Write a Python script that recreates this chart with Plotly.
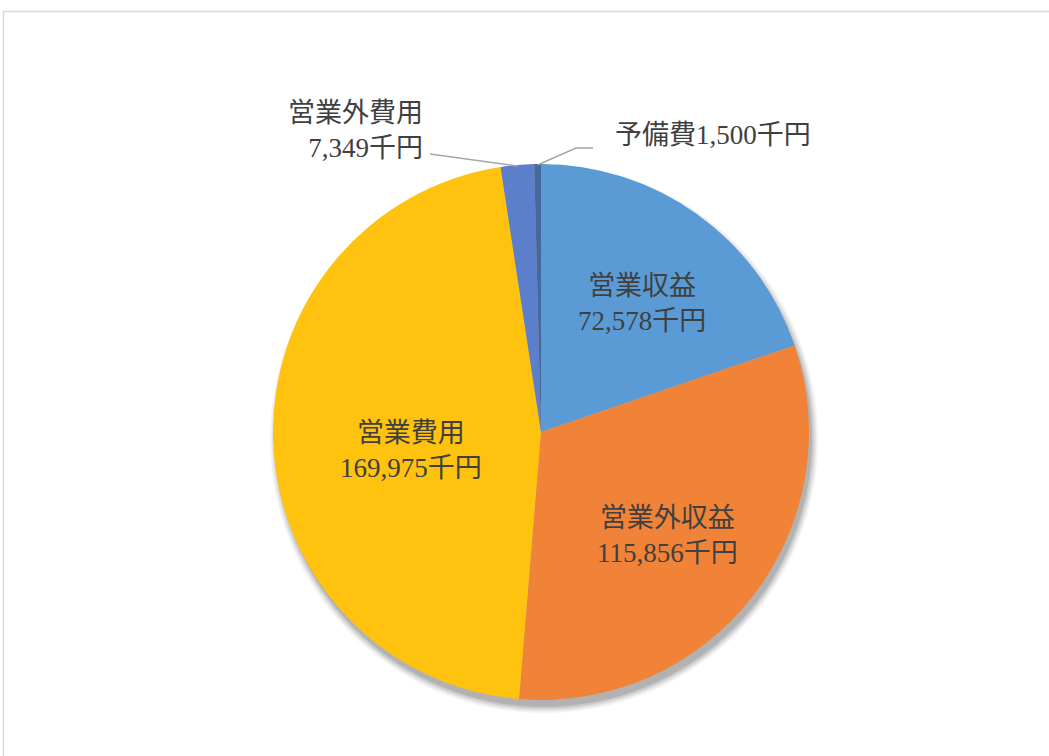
import math
import plotly.graph_objects as go

labels = ["営業収益", "営業外収益", "営業費用", "営業外費用", "予備費"]
values = [72578, 115856, 169975, 7349, 1500]
colors = ["#5B9BD5", "#F08338", "#FFC20E", "#5B7FCB", "#44699C"]

W, H = 1049, 756
CX, CY, R = 541, 432, 268  # pie centre / radius in pixels

FONT = "Liberation Serif, Noto Sans CJK JP, sans-serif"
TXT = "#404040"
FS = 27

# inside-label placement: radius fraction and angle tweak (deg) per slice
lab_frac = [0.61, 0.61, 0.49]
lab_dang = [2.5, 1.5, -6.0]

fig = go.Figure()

# soft drop shadow under the pie (offset down/right)
for grow, op in [(6, 0.05), (4, 0.07), (2, 0.09), (0, 0.12)]:
    fig.add_shape(type="circle", xref="paper", yref="paper", layer="below",
                  x0=(CX - R - grow + 3) / W, x1=(CX + R + grow + 3) / W,
                  y0=1 - (CY + R + grow + 7) / H, y1=1 - (CY - R - grow + 7) / H,
                  fillcolor="rgba(0,0,0,%.2f)" % op, line=dict(width=0))

fig.add_trace(go.Pie(
    labels=labels, values=values, sort=False, direction="clockwise", rotation=0,
    marker=dict(colors=colors, line=dict(width=0)),
    textinfo="none",
    hoverinfo="label+value+percent",
    domain=dict(x=[(CX - R) / W, (CX + R) / W], y=[1 - (CY + R) / H, 1 - (CY - R) / H]),
    showlegend=False,
))

def P(x, y):
    return x / W, 1 - y / H

total = sum(values)
cum = 0
mids = []
for v in values:
    mids.append((cum + v / 2) / total * 360)
    cum += v

# inside labels for the three large slices
for i in range(3):
    a = math.radians(mids[i] + lab_dang[i])
    px = CX + lab_frac[i] * R * math.sin(a)
    py = CY - lab_frac[i] * R * math.cos(a)
    x, y = P(px, py)
    fig.add_annotation(xref="paper", yref="paper", x=x, y=y, showarrow=False,
                       xanchor="center", yanchor="middle", align="center",
                       text=f"{labels[i]}<br>{values[i]:,}千円",
                       font=dict(family=FONT, size=FS, color=TXT))

edge = []
for m in mids:
    a = math.radians(m)
    edge.append((CX + R * math.sin(a), CY - R * math.cos(a)))

# 営業外費用
ex, ey = edge[3]
fig.add_annotation(xref="paper", yref="paper", x=P(425, 0)[0], y=P(0, 131)[1],
                   xanchor="right", yanchor="middle", align="right", showarrow=False,
                   text=f"{labels[3]}<br>{values[3]:,}千円",
                   font=dict(family=FONT, size=FS, color=TXT))
x0, y0 = P(430, 154)
x1, y1 = P(ex, ey + 1)
fig.add_shape(type="line", xref="paper", yref="paper", x0=x0, y0=y0, x1=x1, y1=y1,
              line=dict(color="#A6A6A6", width=1.5))

# 予備費
ex, ey = edge[4]
fig.add_annotation(xref="paper", yref="paper", x=P(613, 0)[0], y=P(0, 135)[1],
                   xanchor="left", yanchor="middle", showarrow=False,
                   text=f"{labels[4]}{values[4]:,}千円",
                   font=dict(family=FONT, size=FS, color=TXT))
xa, ya = P(ex, ey + 1)
xb, yb = P(576, 148)
xc, yc = P(593, 148)
fig.add_shape(type="path", xref="paper", yref="paper",
              path=f"M {xa} {ya} L {xb} {yb} L {xc} {yc}",
              line=dict(color="#A6A6A6", width=1.5))

# chart-area border
fig.add_shape(type="rect", xref="paper", yref="paper", layer="below",
              x0=3.5 / W, x1=1.02, y0=-0.02, y1=1 - 11.5 / H,
              line=dict(color="#D9D9D9", width=1.5), fillcolor="rgba(0,0,0,0)")

fig.update_layout(width=W, height=H, margin=dict(l=0, r=0, t=0, b=0),
                  paper_bgcolor="white", plot_bgcolor="white")
fig.write_html("out.html")
